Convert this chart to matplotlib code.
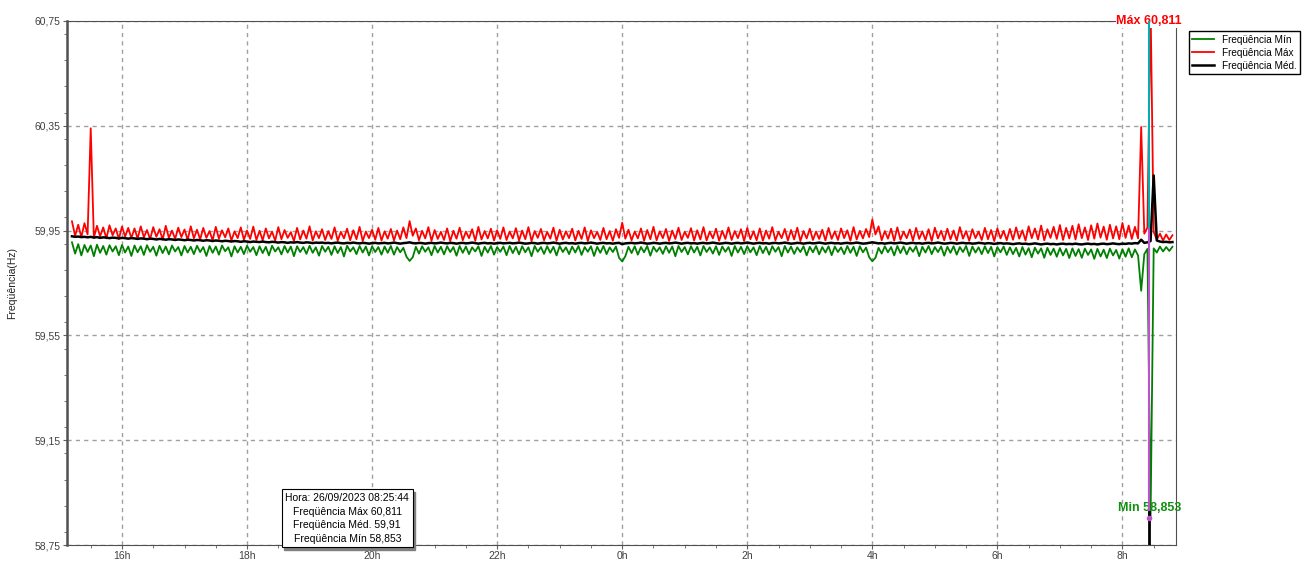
import numpy as np
import matplotlib
matplotlib.use("Agg")
import matplotlib.pyplot as plt
from matplotlib.ticker import MultipleLocator, FuncFormatter

plt.rcParams['font.family'] = ['Liberation Sans', 'DejaVu Sans']

# 3-minute samples, hours counted from midnight of the first day (24 = 0h next day)
t_start = 15.2
t_step = 0.05

freq_max = [
    59.985, 59.930, 59.972, 59.925, 59.978, 59.935, 60.340, 59.922, 59.968, 59.928, 59.962, 59.920, 59.970, 59.932, 59.958, 59.918, 59.965, 59.927, 59.960, 59.921,
    59.958, 59.919, 59.966, 59.924, 59.952, 59.917, 59.963, 59.926, 59.955, 59.915, 59.968, 59.922, 59.950, 59.918, 59.961, 59.925, 59.954, 59.914, 59.966, 59.920,
    59.953, 59.916, 59.960, 59.922, 59.948, 59.913, 59.964, 59.919, 59.951, 59.924, 59.958, 59.912, 59.947, 59.921, 59.962, 59.915, 59.950, 59.918, 59.965, 59.914,
    59.949, 59.913, 59.958, 59.920, 59.946, 59.911, 59.963, 59.917, 59.952, 59.922, 59.944, 59.910, 59.960, 59.916, 59.950, 59.919, 59.966, 59.912, 59.947, 59.921,
    59.955, 59.914, 59.948, 59.918, 59.962, 59.911, 59.945, 59.920, 59.957, 59.913, 59.951, 59.917, 59.964, 59.910, 59.946, 59.921, 59.953, 59.915, 59.960, 59.912,
    59.947, 59.919, 59.956, 59.912, 59.950, 59.917, 59.962, 59.921, 59.986, 59.930, 59.958, 59.913, 59.949, 59.920, 59.963, 59.911, 59.952, 59.918, 59.945, 59.914,
    59.958, 59.910, 59.949, 59.919, 59.961, 59.913, 59.946, 59.921, 59.955, 59.911, 59.964, 59.916, 59.948, 59.920, 59.957, 59.912, 59.951, 59.918, 59.962, 59.914,
    59.946, 59.920, 59.959, 59.912, 59.950, 59.917, 59.963, 59.910, 59.948, 59.922, 59.956, 59.913, 59.945, 59.919, 59.961, 59.911, 59.953, 59.916, 59.947, 59.921,
    59.957, 59.912, 59.949, 59.918, 59.962, 59.910, 59.951, 59.921, 59.945, 59.914, 59.960, 59.917, 59.948, 59.911, 59.955, 59.922, 59.980, 59.919, 59.953, 59.913,
    59.946, 59.920, 59.958, 59.911, 59.952, 59.917, 59.964, 59.913, 59.947, 59.921, 59.956, 59.910, 59.950, 59.918, 59.961, 59.914, 59.945, 59.922, 59.959, 59.912,
    59.951, 59.916, 59.963, 59.912, 59.946, 59.920, 59.957, 59.911, 59.949, 59.918, 59.962, 59.914, 59.948, 59.921, 59.955, 59.910, 59.960, 59.917, 59.947, 59.913,
    59.958, 59.911, 59.950, 59.919, 59.963, 59.913, 59.945, 59.921, 59.956, 59.912, 59.952, 59.916, 59.961, 59.910, 59.948, 59.920, 59.957, 59.914, 59.946, 59.918,
    59.953, 59.912, 59.960, 59.918, 59.947, 59.914, 59.958, 59.921, 59.951, 59.911, 59.963, 59.916, 59.949, 59.920, 59.956, 59.925, 59.992, 59.935, 59.966, 59.913,
    59.948, 59.919, 59.957, 59.911, 59.962, 59.915, 59.946, 59.921, 59.954, 59.912, 59.960, 59.918, 59.947, 59.914, 59.955, 59.910, 59.961, 59.920, 59.949, 59.913,
    59.957, 59.916, 59.950, 59.912, 59.963, 59.919, 59.948, 59.911, 59.955, 59.921, 59.946, 59.914, 59.960, 59.917, 59.952, 59.910, 59.958, 59.920, 59.949, 59.913,
    59.956, 59.915, 59.962, 59.919, 59.951, 59.912, 59.966, 59.921, 59.958, 59.916, 59.969, 59.913, 59.955, 59.922, 59.964, 59.918, 59.971, 59.914, 59.960, 59.920,
    59.968, 59.916, 59.974, 59.921, 59.962, 59.914, 59.970, 59.919, 59.977, 59.923, 59.965, 59.915, 59.972, 59.920, 59.966, 59.917, 59.979, 59.922, 59.969, 59.918,
    59.964, 59.920, 60.345, 59.938, 59.962, 60.811, 59.945, 59.915, 59.938, 59.912, 59.935, 59.914, 59.932,
]

freq_min = [
    59.905, 59.862, 59.898, 59.855, 59.895, 59.868, 59.893, 59.852, 59.896, 59.865, 59.891, 59.858, 59.894, 59.870, 59.890, 59.856, 59.895, 59.866, 59.889, 59.853,
    59.893, 59.867, 59.890, 59.857, 59.894, 59.869, 59.888, 59.854, 59.892, 59.864, 59.889, 59.859, 59.893, 59.870, 59.887, 59.855, 59.891, 59.866, 59.888, 59.860,
    59.892, 59.868, 59.887, 59.853, 59.891, 59.865, 59.889, 59.858, 59.893, 59.871, 59.886, 59.851, 59.890, 59.866, 59.888, 59.860, 59.892, 59.869, 59.887, 59.856,
    59.890, 59.864, 59.888, 59.855, 59.892, 59.870, 59.886, 59.859, 59.891, 59.866, 59.889, 59.852, 59.890, 59.868, 59.887, 59.861, 59.892, 59.865, 59.886, 59.854,
    59.891, 59.869, 59.888, 59.857, 59.890, 59.864, 59.887, 59.851, 59.892, 59.870, 59.886, 59.860, 59.891, 59.866, 59.889, 59.855, 59.890, 59.868, 59.887, 59.858,
    59.889, 59.865, 59.891, 59.858, 59.887, 59.867, 59.884, 59.850, 59.834, 59.848, 59.888, 59.862, 59.890, 59.869, 59.886, 59.856, 59.891, 59.866, 59.888, 59.859,
    59.890, 59.868, 59.887, 59.854, 59.891, 59.865, 59.889, 59.860, 59.886, 59.870, 59.890, 59.853, 59.888, 59.866, 59.891, 59.858, 59.887, 59.869, 59.889, 59.856,
    59.891, 59.864, 59.888, 59.859, 59.890, 59.867, 59.886, 59.852, 59.891, 59.869, 59.887, 59.861, 59.890, 59.865, 59.888, 59.855, 59.891, 59.868, 59.886, 59.860,
    59.889, 59.866, 59.891, 59.857, 59.887, 59.869, 59.890, 59.853, 59.888, 59.865, 59.891, 59.860, 59.886, 59.868, 59.889, 59.846, 59.832, 59.852, 59.888, 59.864,
    59.890, 59.858, 59.887, 59.867, 59.891, 59.854, 59.888, 59.869, 59.886, 59.861, 59.890, 59.865, 59.889, 59.852, 59.891, 59.868, 59.887, 59.859, 59.890, 59.866,
    59.888, 59.855, 59.891, 59.868, 59.886, 59.862, 59.890, 59.857, 59.889, 59.869, 59.887, 59.853, 59.891, 59.866, 59.888, 59.860, 59.890, 59.867, 59.886, 59.856,
    59.891, 59.864, 59.888, 59.858, 59.890, 59.869, 59.887, 59.852, 59.891, 59.866, 59.889, 59.861, 59.886, 59.868, 59.890, 59.855, 59.888, 59.867, 59.891, 59.859,
    59.887, 59.866, 59.890, 59.856, 59.889, 59.868, 59.886, 59.860, 59.891, 59.865, 59.888, 59.853, 59.890, 59.867, 59.885, 59.848, 59.833, 59.846, 59.884, 59.862,
    59.890, 59.867, 59.887, 59.855, 59.891, 59.864, 59.889, 59.859, 59.886, 59.869, 59.890, 59.852, 59.888, 59.866, 59.891, 59.860, 59.887, 59.868, 59.889, 59.854,
    59.888, 59.865, 59.890, 59.858, 59.887, 59.868, 59.891, 59.853, 59.889, 59.866, 59.886, 59.860, 59.890, 59.864, 59.888, 59.851, 59.887, 59.867, 59.889, 59.857,
    59.886, 59.860, 59.884, 59.851, 59.887, 59.858, 59.883, 59.848, 59.885, 59.862, 59.882, 59.846, 59.884, 59.857, 59.881, 59.850, 59.883, 59.855, 59.880, 59.845,
    59.882, 59.853, 59.879, 59.846, 59.881, 59.857, 59.878, 59.842, 59.880, 59.851, 59.877, 59.845, 59.881, 59.855, 59.876, 59.843, 59.879, 59.850, 59.882, 59.848,
    59.878, 59.855, 59.720, 59.860, 59.880, 58.853, 59.882, 59.866, 59.889, 59.870, 59.887, 59.872, 59.888,
]

freq_med = [
    59.928, 59.926, 59.927, 59.925, 59.926, 59.924, 59.926, 59.923, 59.925, 59.922, 59.924, 59.923, 59.921, 59.923, 59.922, 59.920, 59.922, 59.921, 59.919, 59.921,
    59.920, 59.918, 59.920, 59.919, 59.917, 59.919, 59.918, 59.916, 59.918, 59.917, 59.915, 59.917, 59.916, 59.914, 59.916, 59.915, 59.913, 59.915, 59.914, 59.912,
    59.914, 59.913, 59.911, 59.913, 59.912, 59.910, 59.912, 59.911, 59.909, 59.911, 59.910, 59.908, 59.910, 59.909, 59.907, 59.909, 59.908, 59.906, 59.908, 59.907,
    59.906, 59.908, 59.906, 59.905, 59.907, 59.906, 59.904, 59.906, 59.905, 59.903, 59.905, 59.904, 59.906, 59.904, 59.903, 59.905, 59.904, 59.902, 59.904, 59.903,
    59.904, 59.902, 59.903, 59.901, 59.903, 59.904, 59.902, 59.901, 59.903, 59.902, 59.904, 59.902, 59.901, 59.903, 59.902, 59.900, 59.902, 59.903, 59.901, 59.902,
    59.903, 59.901, 59.902, 59.904, 59.902, 59.900, 59.902, 59.903, 59.905, 59.902, 59.901, 59.903, 59.902, 59.900, 59.902, 59.903, 59.901, 59.902, 59.904, 59.902,
    59.901, 59.903, 59.902, 59.900, 59.902, 59.903, 59.901, 59.902, 59.904, 59.902, 59.900, 59.902, 59.903, 59.901, 59.902, 59.900, 59.902, 59.903, 59.901, 59.902,
    59.903, 59.901, 59.902, 59.904, 59.902, 59.900, 59.901, 59.903, 59.902, 59.900, 59.902, 59.903, 59.901, 59.902, 59.904, 59.902, 59.900, 59.902, 59.903, 59.901,
    59.902, 59.900, 59.902, 59.903, 59.901, 59.902, 59.904, 59.902, 59.900, 59.902, 59.903, 59.901, 59.902, 59.900, 59.902, 59.903, 59.898, 59.901, 59.902, 59.903,
    59.901, 59.902, 59.904, 59.902, 59.900, 59.901, 59.903, 59.902, 59.900, 59.902, 59.903, 59.901, 59.902, 59.904, 59.902, 59.900, 59.902, 59.903, 59.901, 59.902,
    59.900, 59.902, 59.903, 59.901, 59.902, 59.904, 59.902, 59.900, 59.901, 59.903, 59.902, 59.900, 59.902, 59.903, 59.901, 59.902, 59.904, 59.902, 59.900, 59.902,
    59.903, 59.901, 59.902, 59.900, 59.902, 59.903, 59.901, 59.902, 59.904, 59.902, 59.900, 59.901, 59.903, 59.902, 59.900, 59.902, 59.903, 59.901, 59.902, 59.904,
    59.902, 59.900, 59.902, 59.903, 59.901, 59.902, 59.900, 59.902, 59.903, 59.901, 59.902, 59.904, 59.902, 59.900, 59.901, 59.903, 59.905, 59.903, 59.901, 59.902,
    59.900, 59.902, 59.903, 59.901, 59.902, 59.904, 59.902, 59.900, 59.902, 59.903, 59.901, 59.902, 59.900, 59.902, 59.903, 59.901, 59.902, 59.904, 59.902, 59.900,
    59.901, 59.903, 59.902, 59.900, 59.902, 59.903, 59.901, 59.902, 59.900, 59.901, 59.903, 59.902, 59.900, 59.902, 59.901, 59.899, 59.901, 59.902, 59.900, 59.901,
    59.900, 59.898, 59.900, 59.901, 59.899, 59.900, 59.898, 59.899, 59.901, 59.899, 59.897, 59.899, 59.900, 59.898, 59.899, 59.897, 59.899, 59.900, 59.898, 59.899,
    59.898, 59.900, 59.898, 59.897, 59.899, 59.900, 59.898, 59.899, 59.897, 59.899, 59.900, 59.898, 59.899, 59.901, 59.899, 59.898, 59.900, 59.899, 59.901, 59.900,
    59.902, 59.901, 59.915, 59.903, 59.905, 59.910, 60.160, 59.912, 59.908, 59.906, 59.907, 59.905, 59.906,
]

# cursor reading (26/09/2023 08:25:44)
cursor_time = 32 + 25 / 60 + 44 / 3600
cursor_label = "26/09/2023 08:25:44"
cursor_max = 60.811
cursor_med = 59.91
cursor_min = 58.853

hour_ticks = [16, 18, 20, 22, 24, 26, 28, 30, 32]
y_ticks = [58.75, 59.15, 59.55, 59.95, 60.35, 60.75]


def br(v, nd):
    # decimal comma
    return f"{v:.{nd}f}".replace(".", ",")


t = t_start + t_step * np.arange(len(freq_max))

fig = plt.figure(figsize=(13.13, 5.62), dpi=100)
ax = fig.add_axes([0.051, 0.030, 0.845, 0.933])

ax.plot(t, freq_min, color="#008000", lw=1.3, label="Freqüência Mín", zorder=2)
ax.plot(t, freq_max, color="#ff0000", lw=1.3, label="Freqüência Máx", zorder=2.1)
ax.plot(t, freq_med, color="black", lw=1.8, label="Freqüência Méd.", zorder=2.2)

# cursor marker lines
ax.plot([cursor_time, cursor_time], [cursor_max, 59.955], color="#00b0b0", lw=1.5, zorder=5)
ax.plot([cursor_time, cursor_time], [59.955, cursor_min], color="#c050d0", lw=1.5, zorder=5)
ax.plot([cursor_time, cursor_time], [58.875, 58.75], color="black", lw=2, zorder=5)
ax.plot([cursor_time], [cursor_min], "o", ms=3, color="#c050d0", zorder=5)

ax.text(cursor_time, 60.75, "Máx " + br(cursor_max, 3), color="#ff0000",
        fontsize=9, fontweight="bold", ha="center", va="center", zorder=4,
        bbox=dict(facecolor="white", edgecolor="none", pad=0.5))
ax.text(cursor_time, cursor_min + 0.04, "Min " + br(cursor_min, 3), color="#109010",
        fontsize=9, fontweight="bold", ha="center", va="center", zorder=4)

ax.set_xlim(15.12, 32.864)
ax.set_ylim(58.75, 60.75)

ax.set_xticks(hour_ticks)
ax.set_xticklabels([f"{h % 24}h" for h in hour_ticks])
ax.xaxis.set_minor_locator(MultipleLocator(0.5))
ax.set_yticks(y_ticks)
ax.yaxis.set_major_formatter(FuncFormatter(lambda v, p: br(v, 2)))
ax.yaxis.set_minor_locator(MultipleLocator(0.1))

ax.tick_params(axis="both", which="major", labelsize=7.5, labelcolor="#404040", color="#606060",
               length=3, pad=1.5, direction="out")
ax.tick_params(axis="both", which="minor", color="#606060", length=2, direction="out")

ax.grid(which="major", linestyle=(0, (3, 3)), color="#a0a0a0", lw=1)
for side in ["left", "right", "top", "bottom"]:
    ax.spines[side].set_color("#505050")
ax.spines["left"].set_linewidth(1.8)

ax.set_ylabel("Freqüência(Hz)", fontsize=7.5, color="#202020")
ax.yaxis.set_label_coords(-0.045, 0.5)

# reading box with drop shadow
info = ("Hora: " + cursor_label + "\n"
        + "Freqüência Máx " + br(cursor_max, 3) + "\n"
        + "Freqüência Méd. " + br(cursor_med, 2) + "\n"
        + "Freqüência Mín " + br(cursor_min, 3))
fig.text(0.2665, 0.0735, info, fontsize=7.5, color="#808080", ha="center", va="center",
         linespacing=1.45, zorder=9,
         bbox=dict(boxstyle="square,pad=0.35", facecolor="#808080", edgecolor="#808080"))
fig.text(0.2645, 0.0775, info, fontsize=7.5, color="black", ha="center", va="center",
         linespacing=1.45, zorder=10,
         bbox=dict(boxstyle="square,pad=0.35", facecolor="white", edgecolor="black", lw=0.8))

fig.legend(loc="upper left", bbox_to_anchor=(0.9015, 0.953), fontsize=7.2, frameon=True,
           fancybox=False, edgecolor="black", handlelength=2.2, borderpad=0.35,
           labelspacing=0.3, handletextpad=0.8, framealpha=1)

fig.savefig("out.png", dpi=100)
